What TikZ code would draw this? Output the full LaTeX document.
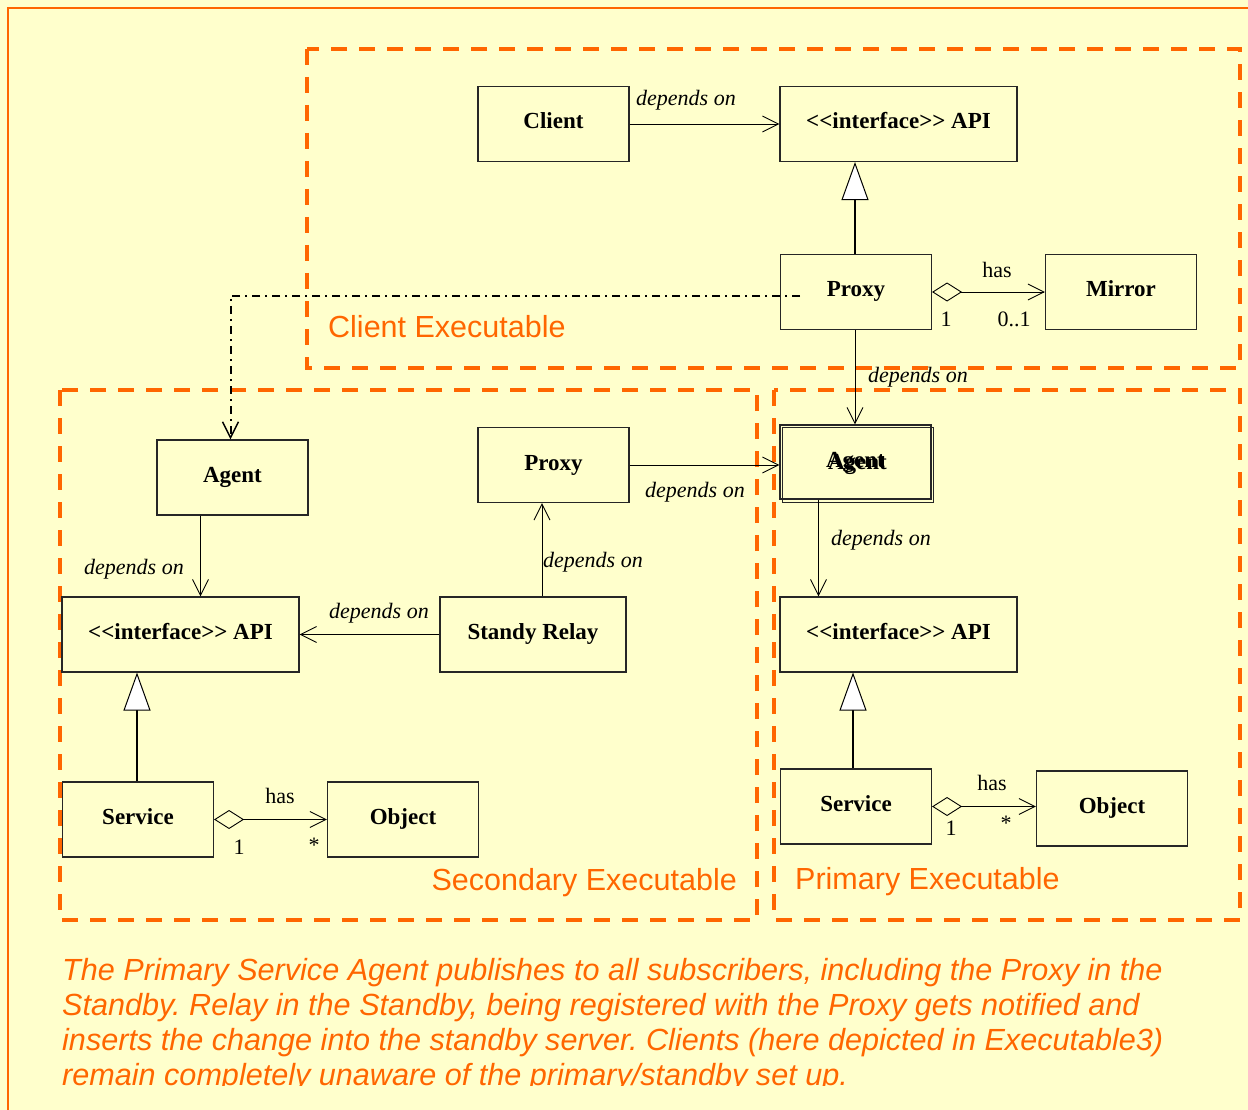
\documentclass[tikz,border=0pt]{standalone}
\usepackage{fontspec}
\usetikzlibrary{arrows.meta,calc}
\newfontfamily\tnr{Liberation Serif}
\newfontfamily\ars{Liberation Sans}
\definecolor{bgy}{HTML}{FFFFCC}
\definecolor{org}{HTML}{FF6600}
\frenchspacing
\begin{document}
\begin{tikzpicture}[x=1pt,y=-1pt,
  cls/.style={draw=black!85, line width=1.1pt, inner sep=0pt, minimum width=151pt, minimum height=75pt, text height=16pt, text depth=6pt, font=\tnr\fontsize{23}{27}\selectfont\bfseries},
  wide/.style={minimum width=237pt},
  lbl/.style={font=\tnr\fontsize{22}{26}\selectfont\itshape, inner sep=0pt},
  mult/.style={font=\tnr\fontsize{22}{26}\selectfont, inner sep=0pt},
  dep/.style={line width=0.9pt, -{Straight Barb[length=16pt,width=16pt,line width=0.9pt]}},
  inh/.style={line width=2pt, -{Triangle[length=38pt,width=27pt,fill=white,line width=1pt]}},
  agg/.style={line width=0.9pt, {Diamond[length=30pt,width=19pt,fill=bgy,line width=0.9pt]}-{Straight Barb[length=16pt,width=16pt,line width=0.9pt]}},
  ddot/.style={line width=2pt, dash pattern=on 8pt off 5pt on 2pt off 5pt, -{Straight Barb[length=16pt,width=16pt,line width=1.5pt,sep=0pt]}},
  exe/.style={draw=org, line width=4pt, dash pattern=on 16pt off 12pt},
  exelbl/.style={font=\ars\fontsize{30.5}{36}\selectfont, text=org, inner sep=0pt},
  para/.style={font=\ars\fontsize{30.6}{35}\selectfont\itshape, text=org, inner sep=0pt},
]
% background and frame
\fill[bgy] (0,0) rectangle (1248,1110);
\useasboundingbox (0,0) rectangle (1248,1110);
\draw[org, line width=2pt] (8,1110) -- (8,8) -- (1248,8);

% executable regions
\draw[exe] (307,49) rectangle (1240,368);
\draw[exe] (60,390) rectangle (757,920);
\draw[exe] (774,390) rectangle (1240,920);
\node[exelbl, anchor=base west] (lblC) at (328,337) {Client Executable};
\node[exelbl, anchor=base east] (lblS) at (737,890) {Secondary Executable};
\node[exelbl, anchor=base west] (lblP) at (795,889) {Primary Executable};

% classes
\node[cls] (client) at (553.5,124) {Client};
\node[cls, wide] (apiT) at (898.5,124) {<<interface>> API};
\node[cls] (proxyT) at (856,292) {Proxy};
\node[cls] (mirror) at (1121,292) {Mirror};
\node[cls] (agentS) at (232.5,477.5) {Agent};
\node[cls] (proxyS) at (553.5,465) {Proxy};
\node[cls, minimum height=74pt] (agentP) at (855.5,462) {Agent};
\draw[black!85, line width=1pt] (782,427) rectangle (933,502);
\node[cls, draw=none, fill=none] (agentP2) at (857.5,464.5) {Agent};
\node[cls, wide] (apiS) at (180.5,634.5) {<<interface>> API};
\node[cls, line width=2pt, minimum width=186pt] (relay) at (533,634.5) {Standy Relay};
\node[cls, wide] (apiP) at (898.5,634.5) {<<interface>> API};
\node[cls] (servS) at (138,819.5) {Service};
\node[cls] (objS) at (403,819.5) {Object};
\node[cls] (servP) at (856,806.5) {Service};
\node[cls] (objP) at (1112,808.5) {Object};

% connectors
\draw[dep] (client.east) -- (apiT.west);
\node[lbl] (l1) at (686,100) {depends on};

\draw[inh] ([xshift=-1pt]proxyT.north) -- ([xshift=-1pt]proxyT.north |- apiT.south);

\draw[agg] (proxyT.east) -- (mirror.west);
\node[mult] (h1) at (997,270) {has};
\node[mult] (m1) at (946,319) {1};
\node[mult] (m2) at (1014,319) {0..1};

\draw[dep] ([xshift=-1pt]proxyT.south) -- ([xshift=-1pt]proxyT.south |- agentP.north);
\node[lbl] (l2) at (918,377) {depends on};

\coordinate (ddstart) at (800,295.5);
\draw[ddot] (ddstart) -| ([xshift=-2pt]agentS.north);

\draw[dep] (proxyS.east) -- (proxyS.east -| agentP.west);
\node[lbl] (l3) at (695,492) {depends on};

\draw[dep] ([xshift=-37pt]agentP.south) -- ([xshift=-37pt]agentP.south |- apiP.north);
\node[lbl] (l4) at (881,540) {depends on};

\draw[dep] ([xshift=-32pt]agentS.south) -- ([xshift=-32pt]agentS.south |- apiS.north);
\node[lbl] (l5) at (134,569) {depends on};

\draw[dep] ([xshift=9pt]relay.north) -- ([xshift=9pt]relay.north |- proxyS.south);
\node[lbl] (l6) at (593,562) {depends on};

\draw[dep] (relay.west) -- (apiS.east);
\node[lbl] (l7) at (379,613) {depends on};

\draw[inh] ([xshift=-1pt]servS.north) -- ([xshift=-1pt]servS.north |- apiS.south);
\draw[agg] (servS.east) -- (objS.west);
\node[mult] (h2) at (280,796) {has};
\node[mult] (m3) at (239,847) {1};
\node[mult] (m4) at (314,845) {*};

\draw[inh] ([xshift=-3pt]servP.north) -- ([xshift=-3pt]servP.north |- apiP.south);
\draw[agg] (servP.east) -- (servP.east -| objP.west);
\node[mult] (h3) at (992,783) {has};
\node[mult] (m5) at (951,828) {1};
\node[mult] (m6) at (1006,823) {*};

% note
\begin{scope}
\clip (0,940) rectangle (1248,1085.5);
\node[para, anchor=base west] (p1) at (62,980) {The Primary Service Agent publishes to all subscribers, including the Proxy in the};
\node[para, anchor=base west] (p2) at (62,1015) {Standby. Relay in the Standby, being registered with the Proxy gets notified and};
\node[para, anchor=base west] (p3) at (62,1050) {inserts the change into the standby server. Clients (here depicted in Executable3)};
\node[para, anchor=base west] (p4) at (62,1085) {remain completely unaware of the primary/standby set up.};
\end{scope}
\end{tikzpicture}
\end{document}
